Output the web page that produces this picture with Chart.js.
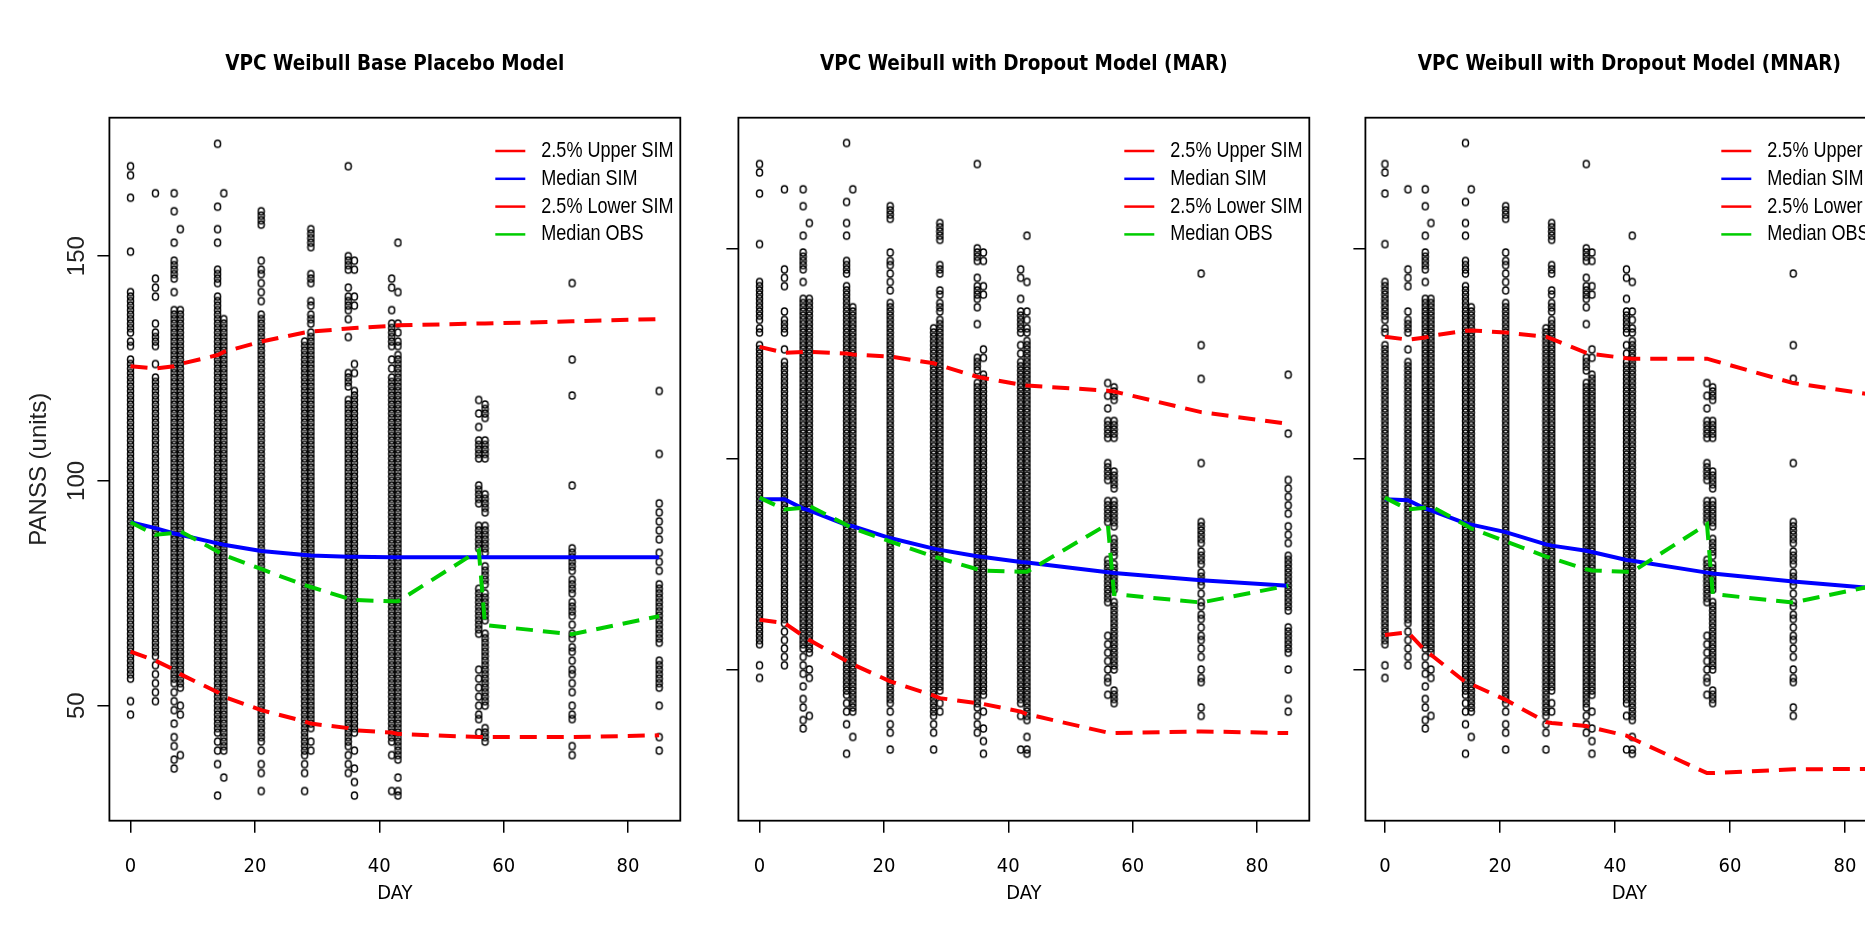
<!DOCTYPE html>
<html>
<head>
<meta charset="utf-8">
<script src="https://cdn.jsdelivr.net/npm/chart.js@4.4.0/dist/chart.umd.min.js"></script>
<style>
  html, body { margin: 0; padding: 0; background: #fff; overflow: hidden; width: 1865px; height: 937px; }
  #wrap { position: relative; width: 1865px; height: 937px; overflow: hidden; }
  canvas { position: absolute; top: 0; }
</style>
</head>
<body>
<div id="wrap">
  <canvas id="p1" width="700" height="937" style="left:0px"></canvas>
  <canvas id="p2" width="700" height="937" style="left:629.2px"></canvas>
  <canvas id="p3" width="657" height="937" style="left:1255.9px"></canvas>
</div>
<script>
// observed PANSS values per visit day (same data in all 3 panels)
const obsDay0 = [170,168,163,151,142,141,140,139,138,137,136,135,134,133,131,130,127,126,125,124,123,122,121,120,119,118,117,116,115,114,113,112,111,110,109,108,107,106,105,104,103,102,101,100,99,98,97,96,95,94,93,92,91,90,89,88,87,86,85,84,83,82,81,80,79,78,77,76,75,74,73,72,71,70,69,68,67,66,65,64,63,62,61,60,59,58,57,56,51,48];
const obsDay4 = [164,145,143,141,135,133,132,131,130,126,123,122,121,120,119,118,117,116,115,114,113,112,111,110,109,108,107,106,105,104,103,102,101,100,99,98,97,96,95,94,93,92,91,90,89,88,87,86,85,84,83,82,81,80,79,78,77,76,75,74,73,72,71,70,69,68,67,66,65,64,63,62,61,59,57,55,53,51];
const obsDay7 = [164,160,153,149,148,147,146,145,142,138,137,136,135,134,133,132,131,130,129,128,127,126,125,124,123,122,121,120,119,118,117,116,115,114,113,112,111,110,109,108,107,106,105,104,103,102,101,100,99,98,97,96,95,94,93,92,91,90,89,88,87,86,85,84,83,82,81,80,79,78,77,76,75,74,73,72,71,70,69,68,67,66,65,64,63,62,61,60,59,58,57,56,55,53,51,49,46,43,41,38,36];
const obsDay8 = [156,138,137,136,135,134,133,132,131,130,129,128,127,126,125,124,123,122,121,120,119,118,117,116,115,114,113,112,111,110,109,108,107,106,105,104,103,102,101,100,99,98,97,96,95,94,93,92,91,90,89,88,87,86,85,84,83,82,81,80,79,78,77,76,75,74,73,72,71,70,69,68,67,66,65,64,63,62,61,60,59,58,57,56,55,54,50,48,39];
const obsDay14 = [175,161,156,153,147,146,145,144,141,140,139,138,137,136,135,134,133,132,131,130,129,128,127,126,125,124,123,122,121,120,119,118,117,116,115,114,113,112,111,110,109,108,107,106,105,104,103,102,101,100,99,98,97,96,95,94,93,92,91,90,89,88,87,86,85,84,83,82,81,80,79,78,77,76,75,74,73,72,71,70,69,68,67,66,65,64,63,62,61,60,59,58,57,56,55,54,53,52,51,50,49,48,47,46,45,44,42,40,37,30];
const obsDay15 = [164,136,135,134,133,132,131,130,129,128,127,126,125,124,123,122,121,120,119,118,117,116,115,114,113,112,111,110,109,108,107,106,105,104,103,102,101,100,99,98,97,96,95,94,93,92,91,90,89,88,87,86,85,84,83,82,81,80,79,78,77,76,75,74,73,72,71,70,69,68,67,66,65,64,63,62,61,60,59,58,57,56,55,54,53,52,51,50,49,48,47,46,45,44,43,42,41,40,34];
const obsDay21 = [160,159,158,157,149,147,146,144,142,140,137,136,135,134,133,132,131,130,129,128,127,126,125,124,123,122,121,120,119,118,117,116,115,114,113,112,111,110,109,108,107,106,105,104,103,102,101,100,99,98,97,96,95,94,93,92,91,90,89,88,87,86,85,84,83,82,81,80,79,78,77,76,75,74,73,72,71,70,69,68,67,66,65,64,63,62,61,60,59,58,57,56,55,54,53,52,51,50,49,48,47,46,45,44,43,42,40,37,35,31];
const obsDay28 = [131,130,129,128,127,126,125,124,123,122,121,120,119,118,117,116,115,114,113,112,111,110,109,108,107,106,105,104,103,102,101,100,99,98,97,96,95,94,93,92,91,90,89,88,87,86,85,84,83,82,81,80,79,78,77,76,75,74,73,72,71,70,69,68,67,66,65,64,63,62,61,60,59,58,57,56,55,54,53,52,51,50,49,48,47,46,45,44,43,42,41,40,39,37,35,31];
const obsDay29 = [156,155,154,153,152,146,145,144,140,139,137,136,135,133,132,131,130,129,128,127,126,125,124,123,122,121,120,119,118,117,116,115,114,113,112,111,110,109,108,107,106,105,104,103,102,101,100,99,98,97,96,95,94,93,92,91,90,89,88,87,86,85,84,83,82,81,80,79,78,77,76,75,74,73,72,71,70,69,68,67,66,65,64,63,62,61,60,59,58,57,56,55,54,53,52,51,50,49,48,47,46,45,42,40];
const obsDay35 = [170,150,149,148,147,143,141,140,139,138,136,132,124,123,122,121,118,117,116,115,114,113,112,111,110,109,108,107,106,105,104,103,102,101,100,99,98,97,96,95,94,93,92,91,90,89,88,87,86,85,84,83,82,81,80,79,78,77,76,75,74,73,72,71,70,69,68,67,66,65,64,63,62,61,60,59,58,57,56,55,54,53,52,51,50,49,48,47,46,45,44,43,42,41,39,37,35];
const obsDay36 = [149,147,141,139,126,124,120,119,118,117,116,115,114,113,112,111,110,109,108,107,106,105,104,103,102,101,100,99,98,97,96,95,94,93,92,91,90,89,88,87,86,85,84,83,82,81,80,79,78,77,76,75,74,73,72,71,70,69,68,67,66,65,64,63,62,61,60,59,58,57,56,55,54,53,52,51,50,49,48,47,46,45,44,40,36,33,30];
const obsDay42 = [145,143,138,135,134,133,132,131,130,127,125,123,122,121,120,119,118,117,116,115,114,113,112,111,110,109,108,107,106,105,104,103,102,101,100,99,98,97,96,95,94,93,92,91,90,89,88,87,86,85,84,83,82,81,80,79,78,77,76,75,74,73,72,71,70,69,68,67,66,65,64,63,62,61,60,59,58,57,56,55,54,53,52,51,50,49,48,47,46,45,44,43,42,39,31];
const obsDay43 = [153,142,135,133,131,130,128,127,126,125,124,123,122,121,120,119,118,117,116,115,114,113,112,111,110,109,108,107,106,105,104,103,102,101,100,99,98,97,96,95,94,93,92,91,90,89,88,87,86,85,84,83,82,81,80,79,78,77,76,75,74,73,72,71,70,69,68,67,66,65,64,63,62,61,60,59,58,57,56,55,54,53,52,51,50,49,48,47,46,45,44,43,42,41,40,39,38,34,31,30];
const obsDay56 = [118,115,112,109,108,107,106,105,99,98,97,96,95,90,89,88,87,86,85,76,75,74,73,72,71,70,69,68,67,66,58,56,54,52,50,48,47,44];
const obsDay57 = [117,116,115,114,109,108,107,106,105,97,96,95,94,93,90,89,88,87,86,85,84,81,80,79,78,77,75,74,73,72,71,70,69,66,65,64,63,62,61,60,59,58,57,56,55,54,53,52,51,50,45,44,43,42];
const obsDay71 = [144,127,119,99,85,84,83,82,81,80,78,77,76,75,73,72,71,70,68,66,65,63,62,60,58,57,55,53,50,48,47,41,39];
const obsDay85 = [120,106,95,93,91,89,87,84,82,80,77,76,75,74,73,72,71,70,69,68,67,66,65,64,60,59,58,57,56,55,54,50,43,40];

const obsDays = [0, 4, 7, 8, 14, 15, 21, 28, 29, 35, 36, 42, 43, 56, 57, 71, 85];
const obsColumns = [obsDay0, obsDay4, obsDay7, obsDay8, obsDay14, obsDay15, obsDay21, obsDay28, obsDay29,
  obsDay35, obsDay36, obsDay42, obsDay43, obsDay56, obsDay57, obsDay71, obsDay85];

// simulated percentiles and observed median, at the visit days
const simDays = [0, 4, 7, 8, 14, 15, 21, 28, 29, 35, 36, 42, 43, 56, 57, 71, 85];
const medianObs = [90.8, 88, 88.4, 88.8, 84.3, 83.5, 80.4, 76.8, 76.4, 73.8, 73.5, 73.2, 73.2, 84.5, 67.9, 65.9, 69.9];

const baseUpper = [125.5, 125, 125.5, 126, 128, 128.7, 131, 133, 133.2, 133.9, 134, 134.5, 134.6, 135, 135, 135.5, 136];
const baseMedian = [90.8, 89.5, 88.3, 88, 86.1, 85.8, 84.4, 83.5, 83.4, 83.1, 83.1, 83, 83, 83, 83, 83, 83];
const baseLower = [62, 60, 58, 57, 53, 52, 49, 46.5, 46, 45, 44.5, 44, 43.7, 43, 43, 43, 43.4];

const marUpper = [126.6, 125.2, 125.4, 125.4, 125, 124.8, 124.3, 122.7, 122.2, 119.5, 119.2, 117.6, 117.4, 116.2, 116, 111.1, 108.3];
const marMedian = [90.4, 90.4, 88.2, 87.8, 84.3, 84, 81.2, 78.7, 78.4, 76.9, 76.7, 75.5, 75.4, 73.1, 72.9, 71.2, 69.9];
const marLower = [61.8, 61, 58, 57, 52, 51.2, 47.2, 43.8, 43.2, 42, 41.8, 40, 39.4, 35, 34.9, 35.3, 34.9];

const mnarUpper = [129, 128.3, 128.8, 129.2, 130.4, 130.5, 130, 129, 128.5, 125.2, 124.9, 123.9, 123.8, 123.8, 123.4, 118, 115.2];
const mnarMedian = [90.4, 90.2, 88.2, 87.8, 84.7, 84.4, 82.6, 79.7, 79.4, 78.2, 77.9, 76, 75.8, 73, 72.8, 70.9, 69.3];
const mnarLower = [58.2, 58.8, 54.5, 53.5, 47, 46.5, 42.8, 37.5, 37.3, 36.6, 36.2, 34.3, 33.6, 25.4, 25.4, 26.3, 26.4];

const xTicks = [0, 20, 40, 60, 80];
const yTicks = [50, 100, 150];
const legendLabels = ['2.5% Upper SIM', 'Median SIM', '2.5% Lower SIM', 'Median OBS'];
const legendColors = ['#ff0000', '#0000ff', '#ff0000', '#00cd00'];

const NARROW = '"Liberation Sans Narrow", "Arial Narrow", "DejaVu Sans Condensed", "Liberation Sans", sans-serif';
const WIDE = '"Liberation Sans", Arial, sans-serif';

// R-style open circle (pch = 1)
const dot = document.createElement('canvas');
dot.width = 9; dot.height = 11;
const dctx = dot.getContext('2d');
dctx.strokeStyle = '#000';
dctx.lineWidth = 1.5;
dctx.beginPath();
dctx.ellipse(4.5, 5.5, 3.0, 3.6, 0, 0, Math.PI * 2);
dctx.stroke();

const obsPoints = [];
obsDays.forEach((d, i) => obsColumns[i].forEach(v => obsPoints.push({x: d, y: v})));

const boxPlugin = {
  id: 'box',
  afterDraw(chart) {
    const a = chart.chartArea, c = chart.ctx;
    c.save();
    c.strokeStyle = '#000';
    c.lineWidth = 1.8;
    c.strokeRect(a.left, a.top, a.right - a.left, a.bottom - a.top);
    c.restore();
  }
};

// legend inside the plot, top right, no frame (text squeezed like the original)
const legendPlugin = {
  id: 'vpcLegend',
  afterDraw(chart, args, opts) {
    const a = chart.chartArea, c = chart.ctx;
    c.save();
    legendLabels.forEach((t, i) => {
      const y = a.top + 33.3 + i * 27.8;
      const x0 = a.right - opts.inset;
      c.strokeStyle = legendColors[i];
      c.lineWidth = 2.5;
      c.beginPath();
      c.moveTo(x0, y);
      c.lineTo(x0 + 30, y);
      c.stroke();
      c.save();
      c.translate(x0 + 46, y);
      c.scale(0.82, 1);
      c.font = '22px ' + WIDE;
      c.textBaseline = 'middle';
      c.fillStyle = '#000';
      c.fillText(t, 0, 0);
      c.restore();
    });
    c.restore();
  }
};

function simLine(vals, color, dash) {
  return {
    data: simDays.map((d, i) => ({x: d, y: vals[i]})),
    showLine: true,
    borderColor: color,
    borderWidth: 4,
    borderDash: dash,
    borderCapStyle: 'butt',
    pointRadius: 0,
    fill: false,
    tension: 0
  };
}

function makeChart(id, title, upper, median, lower, yMin, yMax, showY, inset) {
  new Chart(document.getElementById(id), {
    type: 'scatter',
    data: {
      datasets: [
        simLine(medianObs, '#00cd00', [17, 10]),
        simLine(lower, '#ff0000', [17, 10]),
        simLine(median, '#0000ff', []),
        simLine(upper, '#ff0000', [17, 10]),
        {data: obsPoints, pointStyle: dot, pointRadius: 3, showLine: false}
      ]
    },
    options: {
      responsive: false,
      animation: false,
      events: [],
      layout: {padding: {left: 0, right: 19.7, top: 0, bottom: 31}},
      plugins: {
        legend: {display: false},
        tooltip: {enabled: false},
        title: {
          display: true, text: title, fullSize: false, color: '#000',
          font: {family: NARROW, size: 20.5, weight: 'bold'},
          padding: {top: 52, bottom: 41.1}
        },
        vpcLegend: {inset: inset}
      },
      scales: {
        x: {
          type: 'linear', min: -3.4, max: 88.4,
          afterBuildTicks: s => { s.ticks = xTicks.map(v => ({value: v})); },
          afterFit: s => { s.height = 85.3; },
          grid: {drawOnChartArea: false, drawTicks: true, tickLength: 12, color: '#000', lineWidth: 1.5},
          border: {display: false},
          ticks: {padding: 22, color: '#000', font: {family: NARROW, size: 20}, maxRotation: 0, autoSkip: false},
          title: {display: true, text: 'DAY', color: '#000', font: {family: NARROW, size: 20}, padding: {top: 0, bottom: 0}}
        },
        y: {
          type: 'linear', min: yMin, max: yMax,
          afterBuildTicks: s => { s.ticks = yTicks.map(v => ({value: v})); },
          afterFit: s => { s.width = 109.4; },
          grid: {drawOnChartArea: false, drawTicks: true, tickLength: 12, color: '#000', lineWidth: 1.5},
          border: {display: false},
          ticks: {display: showY, padding: 0.4, color: '#222', crossAlign: 'center', minRotation: 90, maxRotation: 90,
                  font: {family: WIDE, size: 24}, autoSkip: false},
          title: {display: showY, text: 'PANSS (units)', color: '#222', font: {family: WIDE, size: 24}, padding: {top: 24.6, bottom: 0}}
        }
      }
    },
    plugins: [boxPlugin, legendPlugin]
  });
}

makeChart('p1', 'VPC Weibull Base Placebo Model', baseUpper, baseMedian, baseLower, 24.4, 180.8, true, 185);
makeChart('p2', 'VPC Weibull with Dropout Model (MAR)', marUpper, marMedian, marLower, 14.1, 181, false, 185);
makeChart('p3', 'VPC Weibull with Dropout Model (MNAR)', mnarUpper, mnarMedian, mnarLower, 14.1, 181, false, 172);
</script>
</body>
</html>
